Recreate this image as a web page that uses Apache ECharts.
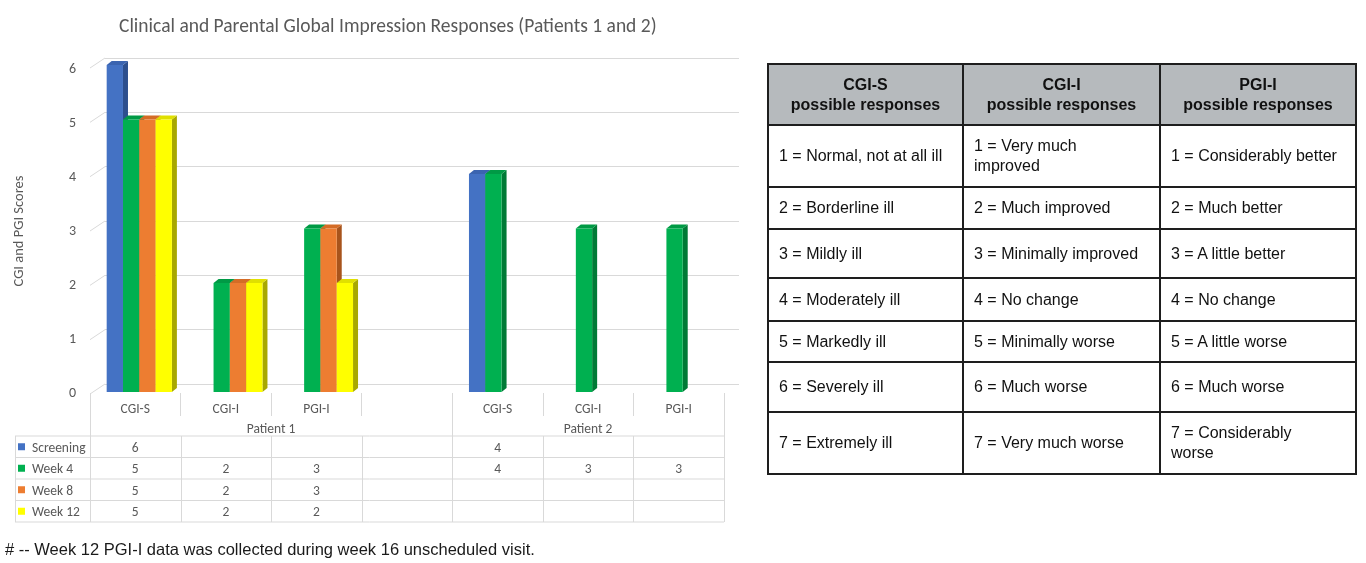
<!DOCTYPE html>
<html>
<head>
<meta charset="utf-8">
<script src="https://cdn.jsdelivr.net/npm/echarts@6/dist/echarts.min.js"></script>
<style>
  html, body { margin: 0; padding: 0; background: #ffffff; }
  #wrap { position: relative; width: 1366px; height: 563px; overflow: hidden; }
  #chart { position: absolute; left: 0; top: 0; width: 1366px; height: 563px; }
  #resp { position: absolute; left: 767px; top: 63px; border-collapse: collapse;
          font-family: "Liberation Sans", Arial, sans-serif; font-size: 16px; color: #111; }
  #resp th, #resp td { border: 2px solid #1e1e1e; padding: 0 0 0 10px; text-align: left; line-height: 20px; }
  #resp th { background: #b6babd; text-align: center; font-weight: bold; padding: 0; }
  #foot { position: absolute; left: 5px; top: 540px; font-family: "Liberation Sans", Arial, sans-serif;
          font-size: 16.5px; color: #1a1a1a; white-space: nowrap; }
</style>
</head>
<body>
<div id="wrap">
  <div id="chart"></div>
  <table id="resp"></table>
  <div id="foot"></div>
</div>
<script>
// ---------------- data ----------------
const chartTitle = 'Clinical and Parental Global Impression Responses (Patients 1 and 2)';
const yAxisTitle = 'CGI and PGI Scores';
const categories = ['CGI-S', 'CGI-I', 'PGI-I', '', 'CGI-S', 'CGI-I', 'PGI-I'];
const groupLabels = ['Patient 1', 'Patient 2'];
const groupStart = [0, 4];
const groupEnd = [3, 6];
const seriesNames = ['Screening', 'Week 4', 'Week 8', 'Week 12'];
const screening = [6, null, null, null, 4, null, null];
const week4 = [5, 2, 3, null, 4, 3, 3];
const week8 = [5, 2, 3, null, null, null, null];
const week12 = [5, 2, 2, null, null, null, null];
const yTicks = [0, 1, 2, 3, 4, 5, 6];
const footnote = '# -- Week 12 PGI-I data was collected during week 16 unscheduled visit.';

const respHeaders = [['CGI-S', 'possible responses'], ['CGI-I', 'possible responses'], ['PGI-I', 'possible responses']];
const cgisResponses = ['1 = Normal, not at all ill', '2 = Borderline ill', '3 = Mildly ill', '4 = Moderately ill', '5 = Markedly ill', '6 = Severely ill', '7 = Extremely ill'];
const cgiiResponses = ['1 = Very much<br>improved', '2 = Much improved', '3 = Minimally improved', '4 = No change', '5 = Minimally worse', '6 = Much worse', '7 = Very much worse'];
const pgiiResponses = ['1 = Considerably better', '2 = Much better', '3 = A little better', '4 = No change', '5 = A little worse', '6 = Much worse', '7 = Considerably<br>worse'];

// ---------------- styles ----------------
const seriesValues = [screening, week4, week8, week12];
const faceColors = [
  { front: '#4472c4', side: '#2d4f8e', top: '#3b64b0' },
  { front: '#00b050', side: '#007a36', top: '#009a45' },
  { front: '#ed7d31', side: '#a8541c', top: '#d46c26' },
  { front: '#ffff00', side: '#a8a800', top: '#e0e000' }
];
const FONT = 'Carlito, Lato, sans-serif';
const TXT = '#595959';
const GRIDC = '#d9d9d9';
const TFS = 13.5;

// ---------------- right-hand table ----------------
(function () {
  const t = document.getElementById('resp');
  const colW = [193, 195, 194];
  const rowH = [61, 62, 42, 49, 43, 41, 50, 62];
  let html = '<tr style="height:' + rowH[0] + 'px">';
  respHeaders.forEach((h, i) => { html += '<th style="width:' + colW[i] + 'px">' + h[0] + '<br>' + h[1] + '</th>'; });
  html += '</tr>';
  for (let r = 0; r < cgisResponses.length; r++) {
    html += '<tr style="height:' + rowH[r + 1] + 'px"><td>' + cgisResponses[r] + '</td><td>' + cgiiResponses[r] + '</td><td>' + pgiiResponses[r] + '</td></tr>';
  }
  t.innerHTML = html;
  document.getElementById('foot').textContent = footnote;
})();

// ---------------- chart ----------------
const chart = echarts.init(document.getElementById('chart'), null, { renderer: 'canvas' });
const DX = 5, DY = 4;  // bar depth

function barRender(sIdx) {
  const c = faceColors[sIdx];
  return function (params, api) {
    const cat = api.value(0), val = api.value(1);
    const base = api.coord([cat, 0]);
    const top = api.coord([cat, val]);
    const catW = api.size([1, 0])[0];
    const bw = catW * 0.18;
    const x0 = base[0] + (sIdx - 2) * bw;
    const x1 = x0 + bw;
    const yb = base[1], yt = top[1];
    return {
      type: 'group',
      children: [
        { type: 'polygon', shape: { points: [[x1, yt], [x1 + DX, yt - DY], [x1 + DX, yb - DY], [x1, yb]] }, style: { fill: c.side } },
        { type: 'polygon', shape: { points: [[x0, yt], [x1, yt], [x1 + DX, yt - DY], [x0 + DX, yt - DY]] }, style: { fill: c.top } },
        { type: 'rect', shape: { x: x0, y: yt, width: bw, height: yb - yt }, style: { fill: c.front } }
      ]
    };
  };
}

const barSeries = seriesValues.map((vals, s) => ({
  type: 'custom',
  name: seriesNames[s],
  xAxisIndex: 2, yAxisIndex: 2,
  renderItem: barRender(s),
  data: vals.map((v, i) => [i, v]).filter(d => d[1] !== null),
  z: 10
}));

const option = {
  animation: false,
  title: {
    text: chartTitle, left: 114, top: 12,
    textStyle: { fontFamily: FONT, fontSize: 19.5, fontWeight: 'normal', color: TXT }
  },
  grid: [
    { left: 90, right: 642, top: 69, bottom: 170 },   // front plane (labels)
    { left: 105, right: 627, top: 58, bottom: 179 },  // back wall (gridlines)
    { left: 94, right: 638, top: 65, bottom: 171 }    // bars
  ],
  xAxis: [
    { gridIndex: 0, type: 'category', data: categories, boundaryGap: true,
      axisLine: { show: false },
      axisTick: { show: true, interval: 0, length: 23, lineStyle: { color: GRIDC } },
      axisLabel: { interval: 0, margin: 10, fontFamily: FONT, fontSize: TFS, color: TXT } },
    { gridIndex: 1, type: 'value', min: 0, max: 1, show: false },
    { gridIndex: 2, type: 'category', data: categories, show: false }
  ],
  yAxis: [
    { gridIndex: 0, type: 'value', min: 0, max: 6, interval: 1,
      name: yAxisTitle, nameLocation: 'middle', nameGap: 63, nameRotate: 90,
      nameTextStyle: { fontFamily: FONT, fontSize: 14.5, color: TXT },
      axisLine: { show: false }, axisTick: { show: false }, splitLine: { show: false },
      axisLabel: { margin: 14, fontFamily: FONT, fontSize: 14, color: TXT } },
    { gridIndex: 1, type: 'value', min: 0, max: 6, interval: 1,
      axisLine: { show: false }, axisTick: { show: false }, axisLabel: { show: false },
      splitLine: { show: true, lineStyle: { color: GRIDC, width: 1 } } },
    { gridIndex: 2, type: 'value', min: 0, max: 6, interval: 1, show: false }
  ],
  series: [
    { type: 'custom', xAxisIndex: 1, yAxisIndex: 1, silent: true,
      data: yTicks.map(v => [0, v]),
      renderItem: function (params, api) {
        const p = api.coord([0, api.value(1)]);
        return { type: 'line', shape: { x1: p[0] - 15, y1: p[1] + 10, x2: p[0], y2: p[1] },
                 style: { stroke: GRIDC, lineWidth: 1 } };
      } }
  ].concat(barSeries)
};
chart.setOption(option);

// ---------------- data table under the axis ----------------
function buildTable() {
  const n = categories.length;
  const c0 = chart.convertToPixel({ xAxisIndex: 0 }, 0);
  const c1 = chart.convertToPixel({ xAxisIndex: 0 }, 1);
  const w = c1 - c0;
  const bounds = [];
  for (let i = 0; i <= n; i++) bounds.push(c0 - w / 2 + i * w);
  const centers = [];
  for (let i = 0; i < n; i++) centers.push(c0 + i * w);
  const axisY = 393, groupRowY = 429.5, tableTop = 436, rowH = 21.5, leftX = 15, textDy = 1.5;
  const rows = seriesNames.length;
  const tableBottom = tableTop + rows * rowH;
  const g = [];
  const line = (x1, y1, x2, y2) => g.push({ type: 'line', silent: true,
      shape: { x1: x1, y1: y1, x2: x2, y2: y2 }, style: { stroke: GRIDC, lineWidth: 1 } });
  for (let r = 0; r <= rows; r++) line(leftX, tableTop + r * rowH, bounds[n], tableTop + r * rowH);
  line(leftX + 0.5, tableTop, leftX + 0.5, tableBottom);
  for (let i = 0; i <= n; i++) line(Math.round(bounds[i]) + 0.5, tableTop, Math.round(bounds[i]) + 0.5, tableBottom);
  const gb = [groupStart[0]].concat(groupEnd.map(e => e + 1));
  gb.forEach(i => line(Math.round(bounds[i]) + 0.5, axisY, Math.round(bounds[i]) + 0.5, tableTop));
  groupLabels.forEach((lab, k) => {
    g.push({ type: 'text', silent: true, x: (bounds[groupStart[k]] + bounds[groupEnd[k] + 1]) / 2, y: groupRowY,
      style: { text: lab, fontFamily: FONT, fontSize: TFS, fill: TXT, align: 'center', verticalAlign: 'middle' } });
  });
  seriesValues.forEach((vals, s) => {
    const yc = tableTop + s * rowH + rowH / 2;
    g.push({ type: 'rect', silent: true, shape: { x: 18, y: yc - 3.5, width: 7, height: 7 }, style: { fill: faceColors[s].front } });
    g.push({ type: 'text', silent: true, x: 32, y: yc + textDy,
      style: { text: seriesNames[s], fontFamily: FONT, fontSize: TFS, fill: TXT, align: 'left', verticalAlign: 'middle' } });
    vals.forEach((v, i) => {
      if (v === null) return;
      g.push({ type: 'text', silent: true, x: centers[i], y: yc + textDy,
        style: { text: String(v), fontFamily: FONT, fontSize: TFS, fill: TXT, align: 'center', verticalAlign: 'middle' } });
    });
  });
  chart.setOption({ graphic: g });
}
buildTable();
</script>
</body>
</html>
